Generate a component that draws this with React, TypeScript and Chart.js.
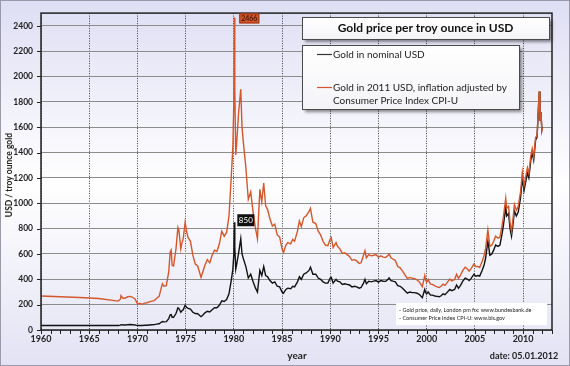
import React, { useEffect, useRef } from "react";
import { Chart, registerables } from "chart.js";
Chart.register(...registerables);

// ---------- data ----------
const YEARS = [
  1960, 1962, 1964, 1966, 1968, 1968.25, 1968.3, 1968.5, 1968.75, 1969,
  1969.25, 1969.5, 1969.75, 1970, 1970.25, 1970.5, 1970.75, 1971, 1971.25, 1971.5,
  1971.75, 1972, 1972.25, 1972.5, 1972.6, 1972.75, 1973, 1973.25, 1973.4, 1973.5,
  1973.6, 1973.75, 1974, 1974.2, 1974.3, 1974.5, 1974.6, 1974.75, 1974.95, 1975.1,
  1975.25, 1975.5, 1975.75, 1976, 1976.25, 1976.6, 1976.75, 1977, 1977.25, 1977.5,
  1977.75, 1978, 1978.25, 1978.5, 1978.75, 1979, 1979.25, 1979.5, 1979.75, 1979.9,
  1980, 1980.05, 1980.1, 1980.2, 1980.3, 1980.5, 1980.72, 1980.85, 1981, 1981.25,
  1981.5, 1981.75, 1982, 1982.25, 1982.45, 1982.7, 1982.9, 1983.1, 1983.3, 1983.5,
  1983.75, 1984, 1984.25, 1984.5, 1984.75, 1985, 1985.15, 1985.4, 1985.6, 1985.9,
  1986.1, 1986.3, 1986.6, 1986.8, 1987, 1987.25, 1987.5, 1987.8, 1987.95, 1988.2,
  1988.5, 1988.75, 1989, 1989.25, 1989.5, 1989.75, 1990, 1990.1, 1990.3, 1990.6,
  1990.75, 1991, 1991.25, 1991.5, 1991.75, 1992, 1992.25, 1992.5, 1992.75, 1993,
  1993.2, 1993.45, 1993.6, 1993.75, 1994, 1994.25, 1994.5, 1994.75, 1995, 1995.25,
  1995.5, 1995.75, 1996, 1996.1, 1996.3, 1996.5, 1996.75, 1997, 1997.25, 1997.5,
  1997.75, 1998, 1998.25, 1998.5, 1998.75, 1999, 1999.25, 1999.55, 1999.8, 1999.9,
  2000, 2000.15, 2000.4, 2000.6, 2000.85, 2001.1, 2001.3, 2001.5, 2001.7, 2001.9,
  2002.1, 2002.4, 2002.6, 2002.9, 2003.1, 2003.3, 2003.5, 2003.75, 2004, 2004.25,
  2004.4, 2004.6, 2004.9, 2005.1, 2005.3, 2005.5, 2005.75, 2005.95, 2006.1, 2006.35,
  2006.45, 2006.55, 2006.75, 2006.95, 2007.15, 2007.4, 2007.6, 2007.8, 2007.95, 2008.2,
  2008.3, 2008.5, 2008.65, 2008.8, 2008.95, 2009.1, 2009.3, 2009.5, 2009.75, 2009.92,
  2010.1, 2010.3, 2010.45, 2010.6, 2010.8, 2010.95, 2011.1, 2011.3, 2011.45, 2011.6,
  2011.68, 2011.75, 2011.85, 2011.95, 2012,
];

const NOMINAL = [
  35, 35, 35, 35, 35, 38, 42, 39, 39, 42,
  43, 42, 40, 35, 36, 35, 37, 38, 40, 41,
  42, 46, 49, 63, 67, 64, 66, 90, 120, 122,
  100, 100, 130, 175, 170, 140, 150, 160, 195, 180,
  170, 165, 140, 130, 128, 105, 115, 135, 148, 142,
  160, 175, 175, 195, 230, 225, 240, 285, 400, 480,
  600, 850, 650, 480, 520, 610, 720, 600, 560, 500,
  410, 440, 380, 330, 300, 470, 430, 500, 430, 420,
  390, 370, 380, 345, 340, 300, 290, 320, 330, 325,
  345, 340, 380, 420, 400, 440, 450, 470, 495, 440,
  440, 410, 400, 380, 370, 370, 410, 415, 370, 400,
  385, 380, 360, 365, 360, 355, 340, 345, 340, 330,
  335, 370, 400, 365, 385, 380, 385, 390, 378, 390,
  385, 384, 400, 410, 390, 385, 380, 350, 345, 330,
  310, 290, 300, 295, 295, 290, 280, 255, 320, 295,
  285, 300, 275, 275, 268, 265, 262, 270, 285, 278,
  295, 320, 310, 320, 355, 330, 350, 385, 410, 400,
  390, 405, 440, 425, 430, 425, 470, 510, 560, 700,
  650, 590, 600, 630, 670, 660, 670, 750, 820, 970,
  900, 920, 800, 740, 830, 940, 900, 930, 1050, 1200,
  1100, 1180, 1240, 1200, 1340, 1400, 1340, 1500, 1520, 1760,
  1880, 1650, 1720, 1580, 1600,
];

const REAL_2011 = [
  268, 262, 256, 248, 228, 245, 272, 250, 252, 262,
  265, 258, 245, 208, 210, 203, 212, 215, 222, 228,
  232, 250, 265, 340, 365, 345, 350, 460, 615, 630,
  510, 505, 640, 810, 790, 640, 680, 720, 850, 780,
  730, 700, 590, 520, 505, 415, 450, 510, 555, 530,
  590, 630, 620, 680, 780, 740, 770, 900, 1230, 1450,
  1800, 2466, 1900, 1380, 1480, 1720, 1900, 1600, 1470, 1280,
  1030, 1090, 930, 800, 720, 1110, 1010, 1160, 980, 950,
  875, 820, 835, 750, 735, 640, 610, 670, 690, 680,
  715, 700, 780, 860, 815, 885, 900, 935, 960, 850,
  840, 780, 750, 700, 670, 665, 720, 730, 650, 690,
  660, 640, 605, 610, 595, 580, 550, 555, 545, 525,
  530, 590, 625, 570, 595, 585, 590, 595, 575, 585,
  575, 572, 590, 600, 570, 560, 548, 500, 490, 465,
  435, 405, 415, 408, 405, 395, 378, 342, 428, 395,
  378, 398, 362, 360, 348, 340, 335, 345, 362, 352,
  372, 402, 388, 398, 440, 408, 430, 470, 495, 480,
  465, 482, 520, 500, 502, 493, 540, 585, 635, 790,
  728, 660, 668, 700, 740, 725, 733, 815, 885, 1040,
  960, 975, 845, 780, 870, 990, 945, 975, 1095, 1245,
  1140, 1220, 1280, 1235, 1375, 1430, 1365, 1520, 1530, 1765,
  1885, 1650, 1715, 1575, 1595,
];

const X_MIN = 1960;
const X_MAX = 2013;
const X_STEP = 5;
const Y_MAX = 2500;
const Y_STEP = 200;

const PEAK_YEAR = 1980.05;
const PEAK_REAL = 2466;
const PEAK_NOMINAL = 850;

const TITLE = "Gold price per troy ounce in USD";
const LEGEND_NOMINAL = "Gold in nominal USD";
const LEGEND_REAL = ["Gold in 2011 USD, inflation adjusted by", "Consumer Price Index CPI-U"];
const SOURCES = [
  "- Gold price, daily, London pm fix: www.bundesbank.de",
  "- Consumer Price Index CPI-U: www.bls.gov",
];
const Y_TITLE = "USD / troy ounce gold";
const X_TITLE = "year";
const DATE_TEXT = "date: 05.01.2012";

const FONT = "Lato, 'Open Sans', 'DejaVu Sans', sans-serif";
const ORANGE = "#d4572b";
const BLACK = "#111111";

function box(ctx: CanvasRenderingContext2D, x: number, y: number, w: number, h: number, shadow: boolean) {
  ctx.save();
  if (shadow) {
    ctx.shadowColor = "rgba(0,0,0,0.45)";
    ctx.shadowOffsetX = 3;
    ctx.shadowOffsetY = 3;
    ctx.shadowBlur = 3;
  }
  const g = ctx.createLinearGradient(0, y, 0, y + h);
  g.addColorStop(0, "#ffffff");
  g.addColorStop(1, "#f4f4f8");
  ctx.fillStyle = g;
  ctx.fillRect(x, y, w, h);
  ctx.restore();
  ctx.save();
  ctx.strokeStyle = "#4a4a4a";
  ctx.lineWidth = 1;
  ctx.strokeRect(x + 0.5, y + 0.5, w, h);
  ctx.restore();
}

const decorPlugin = {
  id: "decor",
  beforeDraw(chart: any) {
    const ctx: CanvasRenderingContext2D = chart.ctx;
    const w = chart.width;
    const h = chart.height;
    ctx.save();
    const g = ctx.createLinearGradient(0, 0, 0, h);
    g.addColorStop(0, "#dedef4");
    g.addColorStop(0.5, "#ffffff");
    g.addColorStop(1, "#e2e2f4");
    ctx.fillStyle = g;
    ctx.fillRect(0, 0, w, h);
    ctx.strokeStyle = "#9a9aaa";
    ctx.lineWidth = 1;
    ctx.strokeRect(0.5, 0.5, w - 1, h - 1);
    ctx.restore();
  },
  afterDraw(chart: any) {
    const ctx: CanvasRenderingContext2D = chart.ctx;
    const { left, right, top, bottom } = chart.chartArea;
    const xs = chart.scales.x;
    const ys = chart.scales.y;

    ctx.save();
    // frame
    ctx.strokeStyle = "#222";
    ctx.lineWidth = 1.5;
    ctx.strokeRect(left, top, right - left, bottom - top);

    // y tick marks
    ctx.lineWidth = 1;
    for (let v = 0; v <= Y_MAX; v += Y_STEP) {
      const py = Math.round(ys.getPixelForValue(v)) + 0.5;
      if (py < top) continue;
      ctx.beginPath();
      ctx.moveTo(left - 4, py);
      ctx.lineTo(left, py);
      ctx.stroke();
    }
    // x minor ticks each year
    for (let yr = X_MIN; yr <= X_MAX; yr++) {
      const px = Math.round(xs.getPixelForValue(yr)) + 0.5;
      ctx.beginPath();
      ctx.moveTo(px, bottom);
      ctx.lineTo(px, bottom + 4);
      ctx.stroke();
    }

    // peak annotations
    const pkx = xs.getPixelForValue(PEAK_YEAR);
    const pry = ys.getPixelForValue(PEAK_REAL);
    ctx.fillStyle = ORANGE;
    ctx.fillRect(pkx + 5, pry - 4, 20, 10);
    ctx.strokeStyle = "#9a3210";
    ctx.strokeRect(pkx + 5.5, pry - 3.5, 19, 9);
    ctx.fillStyle = "#4a1200";
    ctx.font = `bold 7px ${FONT}`;
    ctx.textAlign = "center";
    ctx.textBaseline = "middle";
    ctx.fillText(String(PEAK_REAL), pkx + 15, pry + 1);

    const pny = ys.getPixelForValue(PEAK_NOMINAL);
    ctx.fillStyle = "#111";
    ctx.fillRect(pkx + 3, pny - 8, 17, 12);
    ctx.fillStyle = "#ffffff";
    ctx.font = `8px ${FONT}`;
    ctx.fillText(String(PEAK_NOMINAL), pkx + 11.5, pny - 2);

    // title box
    box(ctx, 302, 17, 247, 22, true);
    ctx.fillStyle = "#111";
    ctx.font = `bold 12px ${FONT}`;
    ctx.textAlign = "center";
    ctx.textBaseline = "middle";
    ctx.fillText(TITLE, 425.5, 28.5);

    // legend box
    box(ctx, 302, 45, 217, 64, true);
    ctx.lineWidth = 1.2;
    ctx.strokeStyle = "#333";
    ctx.beginPath();
    ctx.moveTo(317, 54.5);
    ctx.lineTo(332, 54.5);
    ctx.stroke();
    ctx.strokeStyle = ORANGE;
    ctx.beginPath();
    ctx.moveTo(317, 87.5);
    ctx.lineTo(332, 87.5);
    ctx.stroke();
    ctx.fillStyle = "#222";
    ctx.font = `10px ${FONT}`;
    ctx.textAlign = "left";
    ctx.fillText(LEGEND_NOMINAL, 333, 54.5);
    ctx.fillText(LEGEND_REAL[0], 333, 87.5);
    ctx.fillText(LEGEND_REAL[1], 333, 100.5);

    // source box
    ctx.fillStyle = "#ffffff";
    ctx.fillRect(396, 303, 151, 22);
    ctx.fillStyle = "#222";
    ctx.font = `5.5px ${FONT}`;
    ctx.fillText(SOURCES[0], 399, 310);
    ctx.fillText(SOURCES[1], 399, 318);

    // axis titles
    ctx.textAlign = "center";
    ctx.fillStyle = "#222";
    ctx.font = `bold 10px ${FONT}`;
    ctx.fillText(X_TITLE, 297, 356);
    ctx.font = `bold 9px ${FONT}`;
    ctx.fillText(DATE_TEXT, 524, 356);
    ctx.save();
    ctx.translate(9, 175);
    ctx.rotate(-Math.PI / 2);
    ctx.font = `bold 8.5px ${FONT}`;
    ctx.fillText(Y_TITLE, 0, 0);
    ctx.restore();

    ctx.restore();
  },
};

export default function App() {
  const ref = useRef<HTMLCanvasElement | null>(null);

  useEffect(() => {
    document.body.style.margin = "0";
    const canvas = ref.current;
    if (!canvas) return;
    const chart = new Chart(canvas, {
      type: "line",
      data: {
        datasets: [
          {
            label: LEGEND_REAL.join(" "),
            data: YEARS.map((x, i) => ({ x, y: REAL_2011[i] })),
            borderColor: ORANGE,
            borderWidth: 1.4,
            pointRadius: 0,
            tension: 0,
          },
          {
            label: LEGEND_NOMINAL,
            data: YEARS.map((x, i) => ({ x, y: NOMINAL[i] })),
            borderColor: BLACK,
            borderWidth: 1.4,
            pointRadius: 0,
            tension: 0,
          },
        ],
      },
      options: {
        responsive: false,
        animation: false,
        devicePixelRatio: 1,
        layout: { padding: { left: 0, top: 13, right: 18, bottom: 0 } },
        plugins: { legend: { display: false }, tooltip: { enabled: false }, title: { display: false } },
        scales: {
          x: {
            type: "linear",
            min: X_MIN,
            max: X_MAX,
            afterFit: (s: any) => {
              s.height = 36;
            },
            ticks: {
              stepSize: X_STEP,
              includeBounds: false,
              padding: 4,
              color: "#222",
              font: { family: FONT, size: 9, weight: "bold" },
              maxRotation: 0,
              callback: (v: any) => String(v),
            },
            grid: { color: "#3a3a3a", lineWidth: 1, drawTicks: false },
            border: { display: false, dash: [1, 1.5] },
          },
          y: {
            type: "linear",
            min: 0,
            max: Y_MAX,
            afterFit: (s: any) => {
              s.width = 41;
            },
            ticks: {
              stepSize: Y_STEP,
              includeBounds: false,
              padding: 8,
              color: "#222",
              font: { family: FONT, size: 8.5, weight: "bold" },
              callback: (v: any) => String(v),
            },
            grid: { color: "#8c8c8c", lineWidth: 1, drawTicks: false },
            border: { display: false },
          },
        },
      },
      plugins: [decorPlugin],
    } as any);
    return () => chart.destroy();
  }, []);

  return (
    <div style={{ width: 570, height: 366 }}>
      <canvas ref={ref} width={570} height={366} style={{ display: "block" }} />
    </div>
  );
}
